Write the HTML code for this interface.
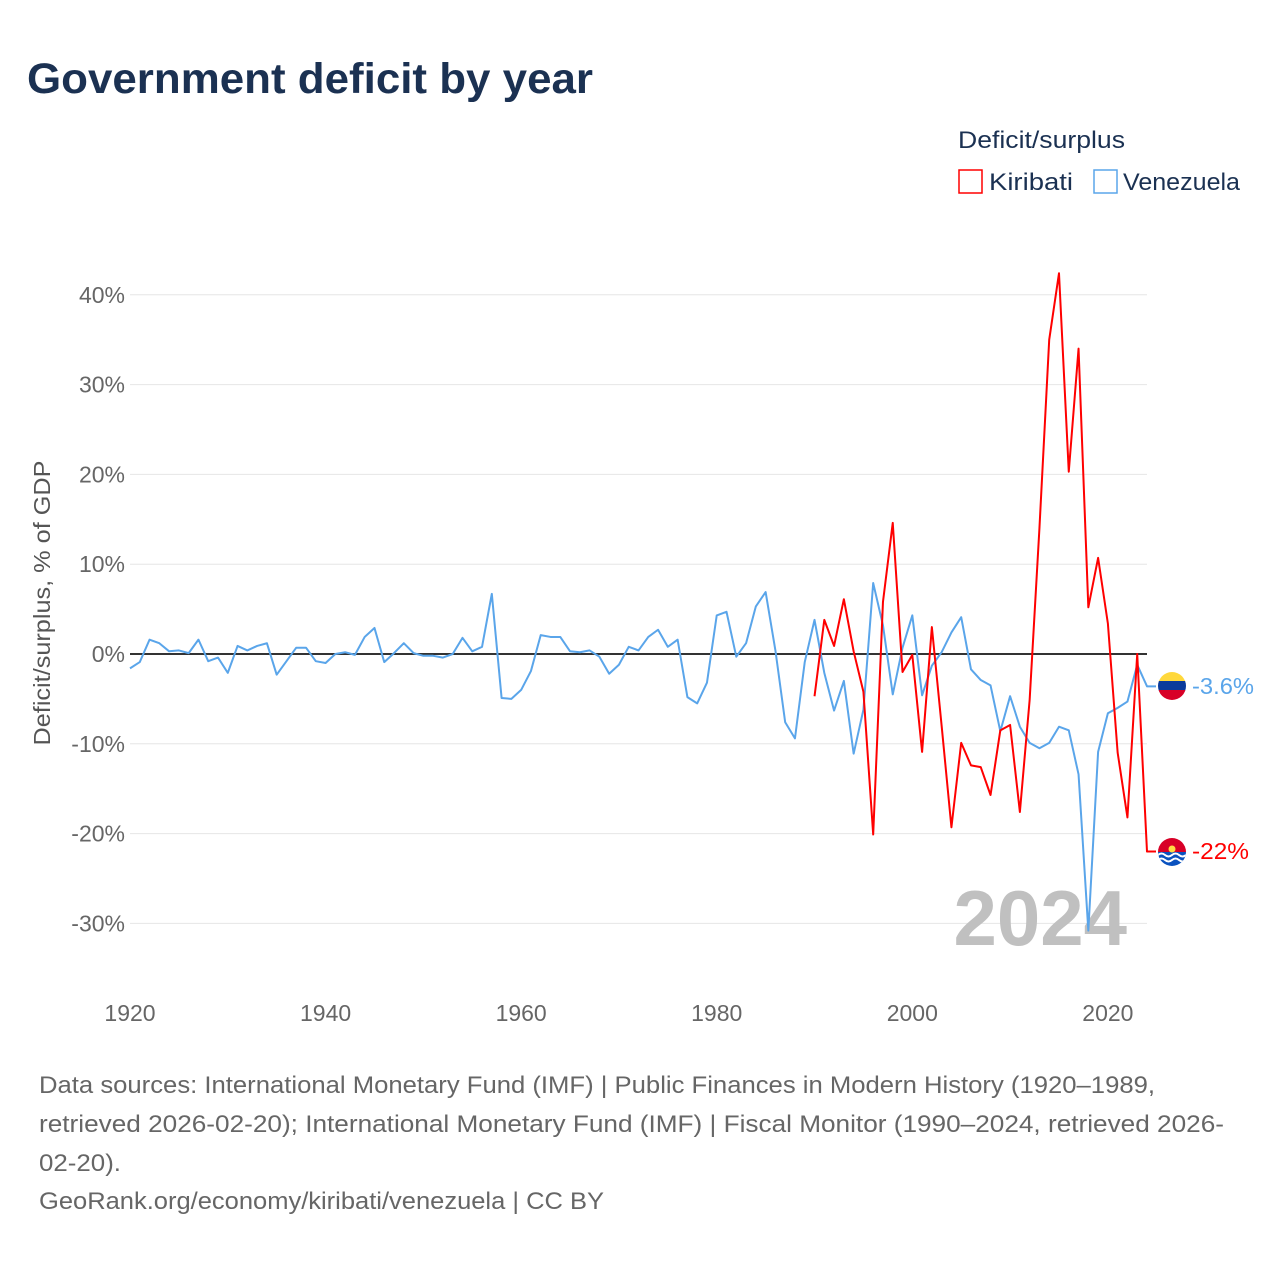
<!DOCTYPE html>
<html><head><meta charset="utf-8"><style>
body{margin:0;width:1280px;height:1280px;background:#fff;font-family:"Liberation Sans",sans-serif;overflow:hidden}
</style></head><body>
<svg width="1280" height="1280" xmlns="http://www.w3.org/2000/svg" font-family="Liberation Sans, sans-serif">
<text x="27" y="93" font-size="43" font-weight="bold" fill="#1b3152" textLength="566" lengthAdjust="spacingAndGlyphs">Government deficit by year</text>
<text x="958" y="148" font-size="24" fill="#1b3152" textLength="167" lengthAdjust="spacingAndGlyphs">Deficit/surplus</text>
<g><rect x="959" y="170" width="23" height="23" fill="none" stroke="#f00" stroke-width="1.5"/><text x="989" y="190" font-size="24" fill="#1b3152" textLength="84" lengthAdjust="spacingAndGlyphs">Kiribati</text></g>
<g><rect x="1094" y="170" width="23" height="23" fill="none" stroke="#5aa5ea" stroke-width="1.5"/><text x="1123" y="190" font-size="24" fill="#1b3152" textLength="117" lengthAdjust="spacingAndGlyphs">Venezuela</text></g>
<text transform="translate(50,603) rotate(-90)" text-anchor="middle" font-size="23" fill="#555" textLength="285" lengthAdjust="spacingAndGlyphs">Deficit/surplus, % of GDP</text>
<g id="grid"></g><g id="yt"></g><g id="xt"></g>
<text x="1127" y="945" text-anchor="end" font-size="78" font-weight="bold" fill="#c0c0c0">2024</text>
<g id="series"></g>
<g><clipPath id="cv"><circle cx="1172" cy="686" r="14"/></clipPath><g clip-path="url(#cv)"><rect x="1158" y="672" width="28" height="10" fill="#ffd83b"/><rect x="1158" y="681" width="28" height="10" fill="#0a3b9c"/><rect x="1158" y="690" width="28" height="10" fill="#d80027"/></g></g>
<text x="1192" y="694" font-size="23" fill="#5aa5ea" textLength="62" lengthAdjust="spacingAndGlyphs">-3.6%</text>
<g><clipPath id="ck"><circle cx="1172" cy="852" r="14"/></clipPath><g clip-path="url(#ck)"><rect x="1158" y="838" width="28" height="14" fill="#d80027"/><rect x="1158" y="852" width="28" height="14" fill="#0a52bf"/><path d="M1158 855q3.5-3 7 0t7 0t7 0t7 0M1158 860q3.5-3 7 0t7 0t7 0t7 0" stroke="#fff" stroke-width="2" fill="none"/><circle cx="1172" cy="849" r="3.5" fill="#ffda44"/></g></g>
<text x="1192" y="859" font-size="23" fill="#f00" textLength="57" lengthAdjust="spacingAndGlyphs">-22%</text>
<g font-size="24" fill="#666">
<text x="39" y="1093" textLength="1116" lengthAdjust="spacingAndGlyphs">Data sources: International Monetary Fund (IMF) | Public Finances in Modern History (1920–1989,</text>
<text x="39" y="1132" textLength="1185" lengthAdjust="spacingAndGlyphs">retrieved 2026-02-20); International Monetary Fund (IMF) | Fiscal Monitor (1990–2024, retrieved 2026-</text>
<text x="39" y="1171" textLength="82" lengthAdjust="spacingAndGlyphs">02-20).</text>
<text x="39" y="1209" textLength="565" lengthAdjust="spacingAndGlyphs">GeoRank.org/economy/kiribati/venezuela | CC BY</text>
</g>
</svg>
<script>
const yTicks=[40,30,20,10,0,-10,-20,-30];
const xTicks=[1920,1940,1960,1980,2000,2020];
const venStart=1920;
const venezuela=[-1.6,-0.9,1.6,1.2,0.3,0.4,0.1,1.6,-0.8,-0.4,-2.1,0.9,0.4,0.9,1.2,-2.3,-0.8,0.7,0.7,-0.8,-1.0,0,0.2,-0.1,1.9,2.9,-0.9,0.1,1.2,0.1,-0.2,-0.2,-0.4,0,1.8,0.3,0.8,6.7,-4.9,-5.0,-4.0,-1.9,2.1,1.9,1.9,0.3,0.2,0.4,-0.3,-2.2,-1.2,0.8,0.4,1.9,2.7,0.8,1.6,-4.8,-5.5,-3.2,4.3,4.7,-0.3,1.2,5.3,6.9,0.4,-7.6,-9.4,-0.9,3.8,-2.1,-6.3,-3.0,-11.1,-6.2,7.9,3.2,-4.5,0.7,4.3,-4.6,-1.3,0.2,2.4,4.1,-1.7,-2.9,-3.5,-8.6,-4.7,-8.1,-9.9,-10.5,-9.9,-8.1,-8.5,-13.4,-30.8,-10.9,-6.6,-6.0,-5.3,-1.2,-3.6];
const kirStart=1990;
const kiribati=[-4.7,3.8,0.9,6.1,0.3,-4.2,-20.1,5.8,14.6,-2.0,-0.1,-10.9,3.0,-8.0,-19.3,-9.9,-12.4,-12.6,-15.7,-8.5,-7.9,-17.6,-5.1,14,35.0,42.4,20.3,34.0,5.2,10.7,3.4,-11.0,-18.2,0,-22.0];
const NS='http://www.w3.org/2000/svg';
const X=y=>130+(y-1920)*(1147-130)/104;
const Y=v=>654-v*8.98;
function mk(t,a,p){const e=document.createElementNS(NS,t);for(const k in a)e.setAttribute(k,a[k]);p.appendChild(e);return e;}
const grid=document.getElementById('grid'),yt=document.getElementById('yt'),xt=document.getElementById('xt'),sr=document.getElementById('series');
yTicks.forEach(v=>{
 if(v!==0){const l=mk('line',{x1:130,x2:1147,y1:Y(v),y2:Y(v),stroke:'#e6e6e6','stroke-width':1},grid);
 
 }
 const t=mk('text',{x:125,y:Y(v)+8,'text-anchor':'end','font-size':23,fill:'#666'},yt);
 t.textContent=v+'%';
 
 
});
xTicks.forEach(y=>{
 const t=mk('text',{x:X(y),y:1021,'text-anchor':'middle','font-size':23,fill:'#666'},xt);
 t.textContent=y;
 
 
});
const z=mk('line',{x1:130,x2:1147,y1:Y(0),y2:Y(0),stroke:'#333','stroke-width':2},sr);


function line(data,start,color,name){
 const pts=data.map((v,i)=>X(start+i)+','+Y(v));
 pts.push((X(start+data.length-1)+9)+','+Y(data[data.length-1]));
 const p=mk('polyline',{points:pts.join(' '),fill:'none',stroke:color,'stroke-width':2,'stroke-linejoin':'round'},sr);
 
 
}
line(venezuela,venStart,'#5aa5ea','venezuela-line');
line(kiribati,kirStart,'#f00','kiribati-line');
</script>
</body></html>
